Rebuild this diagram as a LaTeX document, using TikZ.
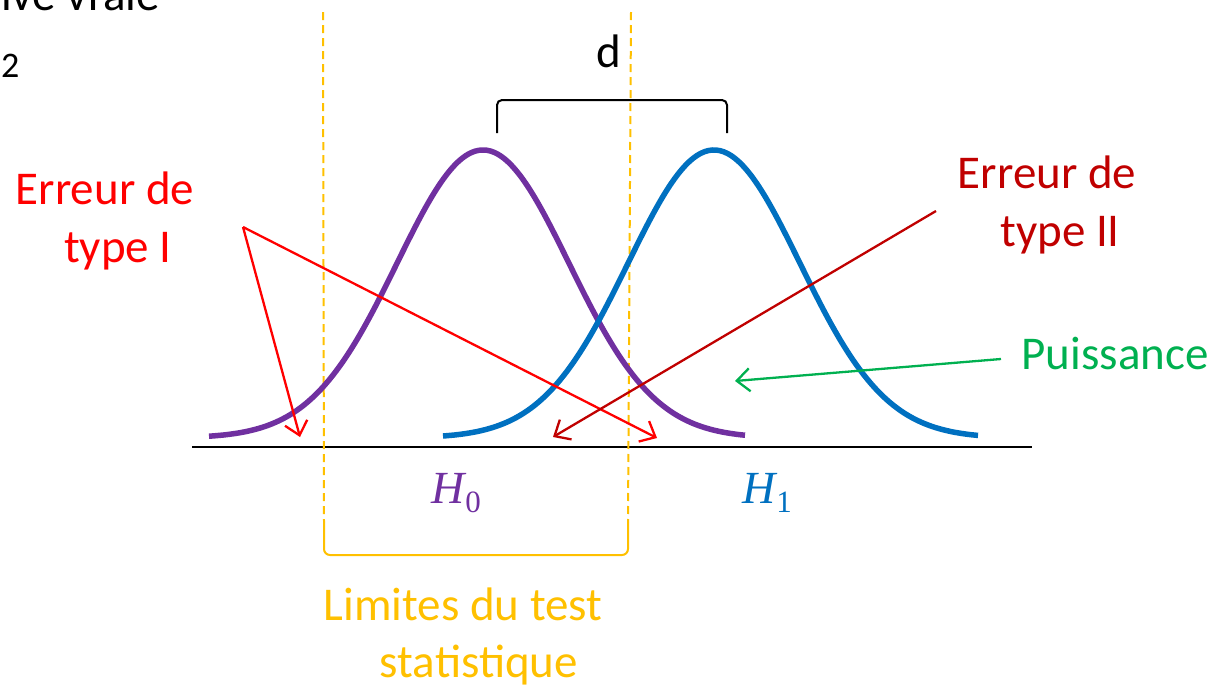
\documentclass[tikz,border=0pt]{standalone}
\usepackage{fontspec}
\setmainfont{Carlito}
\newfontfamily\serifmath{Liberation Serif}
\usetikzlibrary{arrows.meta}
\definecolor{cpurple}{HTML}{7030A0}
\definecolor{cblue}{HTML}{0070C0}
\definecolor{cred}{HTML}{FF0000}
\definecolor{cdarkred}{HTML}{C00000}
\definecolor{cgreen}{HTML}{00B050}
\definecolor{cgold}{HTML}{FFC000}
\newcommand{\hyp}[1]{{\serifmath\itshape H}\kern1pt\raisebox{-9pt}{\serifmath\fontsize{31}{31}\selectfont #1}}
\begin{document}
\begin{tikzpicture}[x=1pt,y=-1pt,
  lbl/.style={inner sep=0pt, anchor=base, font=\fontsize{47}{58}\selectfont},
  mathlbl/.style={inner sep=0pt, anchor=base, font=\fontsize{46}{52}\selectfont},
  curve/.style={line width=5.5pt, line join=round},
  limit/.style={cgold, line width=2pt, dash pattern=on 8pt off 5pt},
  pointer/.style={line width=2.3pt, -{Straight Barb[length=13pt,width=23pt,line width=2.3pt]}},
]
\useasboundingbox (0,0) rectangle (1216,686);
\clip (0,0) rectangle (1216,686);

% cut-off texts at the top left
\node[lbl, anchor=base west] (topt) at (1,10) {ive vraie};
\node[inner sep=0pt, anchor=base west, font=\fontsize{36}{42}\selectfont] (two) at (1,77) {2};

% axis
\coordinate (axL) at (192,447);
\coordinate (axR) at (1032,447);
\draw[line width=2.2pt] (axL) -- (axR);

% limits of the test
\coordinate (l1t) at (323,12);
\coordinate (l1b) at (324,522);
\coordinate (l2t) at (631,12);
\coordinate (l2b) at (628,522);
\draw[limit] (l1t) -- (l1b);
\draw[limit] (l2t) -- (l2b);
\draw[cgold, line width=2pt, rounded corners=6pt] (l1b) -- (324,555) -- (628,555) -- (l2b);

% distributions
\draw[curve, cpurple] plot[domain=209:745, samples=140, smooth]
  (\x, {438 - 288*exp(-0.5*((\x-483)/86)^2)});
\draw[curve, cblue] plot[domain=443:978, samples=140, smooth]
  (\x, {438 - 288*exp(-0.5*((\x-714)/86)^2)});

% d bracket
\coordinate (dL) at (497,133);
\coordinate (dR) at (727,133);
\draw[line width=2pt, rounded corners=5pt] (dL) -- (497,100) -- (727,100) -- (dR);
\node[lbl] (d) at (609,67) {d};

% labels
\node[mathlbl, text=cpurple] (h0) at (456,503) {\hyp{0}};
\node[mathlbl, text=cblue] (h1) at (767,503) {\hyp{1}};

\node[lbl, text=cred] (e1a) at (105,204) {Erreur de};
\node[lbl, text=cred] (e1b) at (118,262) {type I};
\node[lbl, text=cdarkred] (e2a) at (1047,188) {Erreur de};
\node[lbl, text=cdarkred] (e2b) at (1060,246) {type II};
\node[lbl, text=cgreen] (pui) at (1115,369) {Puissance};
\node[lbl, text=cgold] (lim1) at (463,620) {Limites du test};
\node[lbl, text=cgold] (lim2) at (479,677) {statistique};

% arrows
\coordinate (t1s) at (243,227);
\coordinate (t1a) at (300,437);
\coordinate (t1b) at (657,438);
\draw[pointer, cred] (t1s) -- (t1a);
\draw[pointer, cred] (t1s) -- (t1b);

\coordinate (t2s) at (936,211);
\coordinate (t2a) at (553,437);
\draw[pointer, cdarkred] (t2s) -- (t2a);

\coordinate (ps) at (1001,359);
\coordinate (pa) at (735,381);
\draw[pointer, cgreen] (ps) -- (pa);
\end{tikzpicture}
\end{document}
